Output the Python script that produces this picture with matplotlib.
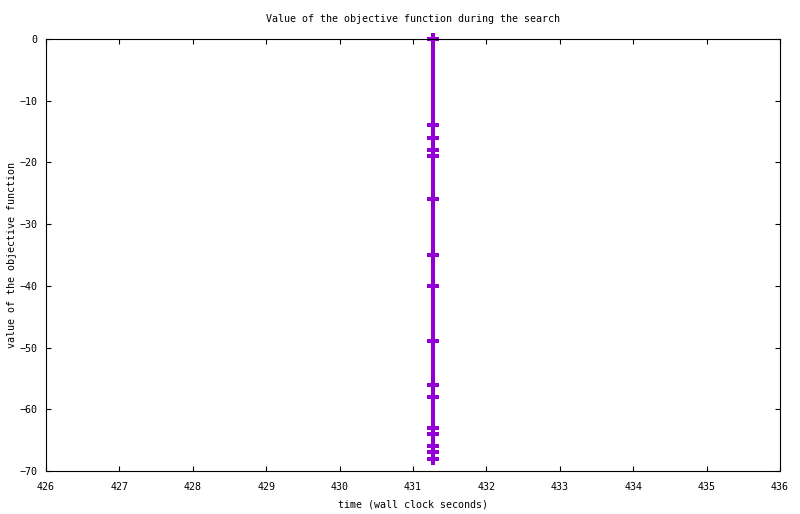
import matplotlib
matplotlib.use("Agg")
import matplotlib.pyplot as plt

# objective value samples (all taken at nearly the same wall-clock time)
times = [431.27] * 16
values = [0, -14, -16, -18, -19, -26, -35, -40, -49, -56, -58, -63, -64, -66, -67, -68]

xticks = list(range(426, 437))
yticks = list(range(-70, 1, 10))

plt.rcParams['font.family'] = 'DejaVu Sans Mono'
plt.rcParams['font.size'] = 7.2

fig = plt.figure(figsize=(8.0, 5.14), dpi=100)
ax = fig.add_axes([46/800, 43/514, 734/800, 432/514])

ax.plot(times, values, color="#9400D3", lw=2.9, marker="+", ms=8, mew=2.9,
        solid_capstyle="butt", clip_on=False)

ax.set_xlim(426, 436)
ax.set_ylim(-70, 0)
ax.set_xticks(xticks)
ax.set_yticks(yticks)
ax.tick_params(axis="x", direction="in", length=3.3, width=0.8, top=True, pad=8)
ax.tick_params(axis="y", direction="in", length=3.3, width=0.8, right=True, pad=6)
for s in ax.spines.values():
    s.set_linewidth(0.8)

ax.set_title("Value of the objective function during the search", fontsize=7.2, pad=12)
ax.set_xlabel("time (wall clock seconds)", labelpad=5)
ax.set_ylabel("value of the objective function", labelpad=2)

fig.savefig("out.png", dpi=100)
